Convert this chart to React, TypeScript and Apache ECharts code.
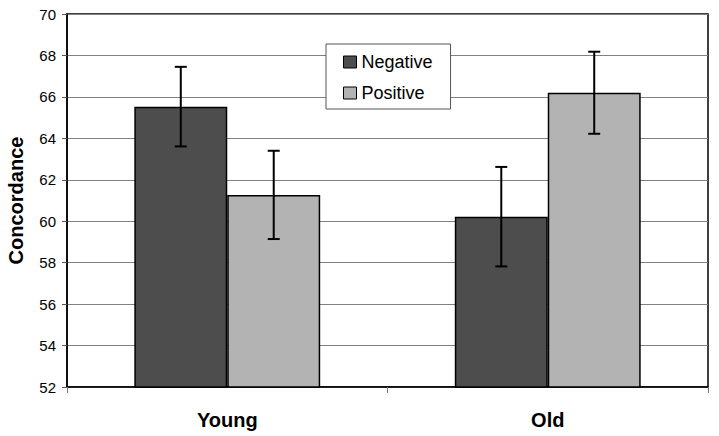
import React, { useEffect, useRef } from "react";
import * as echarts from "echarts";

const categories = ["Young", "Old"];
const seriesNames = ["Negative", "Positive"];
const negativeValues = [65.53, 60.22];
const positiveValues = [61.27, 66.2];
const negativeErrors = [1.92, 2.4];
const positiveErrors = [2.13, 1.98];
const yTicks = [52, 54, 56, 58, 60, 62, 64, 66, 68, 70];

const CAT_GAP = 0.42;

function errorSeries(values: number[], errors: number[], idx: number) {
  const data = values.map((v, i) => [i, v - errors[i], v + errors[i]]);
  return {
    type: "custom",
    name: seriesNames[idx] + " error",
    z: 10,
    silent: true,
    renderItem: (params: any, api: any) => {
      const xi = api.value(0);
      const lo = api.coord([xi, api.value(1)]);
      const hi = api.coord([xi, api.value(2)]);
      const band = api.size([1, 0])[0];
      const bw = (band * (1 - CAT_GAP)) / 2;
      const x = lo[0] + (idx === 0 ? -bw / 2 : bw / 2);
      const cap = 6;
      const style = { stroke: "#000", lineWidth: 2 };
      return {
        type: "group",
        children: [
          { type: "line", shape: { x1: x, y1: lo[1], x2: x, y2: hi[1] }, style },
          { type: "line", shape: { x1: x - cap, y1: hi[1], x2: x + cap, y2: hi[1] }, style },
          { type: "line", shape: { x1: x - cap, y1: lo[1], x2: x + cap, y2: lo[1] }, style },
        ],
      };
    },
    data,
  };
}

export default function App() {
  const ref = useRef<HTMLDivElement>(null);
  useEffect(() => {
    if (!ref.current) return;
    const chart = echarts.init(ref.current, null, { renderer: "svg" });
    chart.setOption({
      animation: false,
      backgroundColor: "#fff",
      textStyle: { fontFamily: "Liberation Sans, Arial, sans-serif" },
      grid: {
        left: 67,
        right: 11,
        top: 14,
        bottom: 49,
        outerBoundsMode: "none",
        containLabel: false,
        show: true,
        borderColor: "#000",
        borderWidth: 1.5,
        backgroundColor: "transparent",
      },
      legend: {
        data: seriesNames.map((n) => ({ name: n, icon: "rect" })),
        orient: "vertical",
        left: 326,
        top: 44,
        itemWidth: 13,
        itemHeight: 12,
        itemGap: 13,
        padding: [9, 18, 7, 17],
        borderColor: "#555",
        borderWidth: 1,
        backgroundColor: "#fff",
        textStyle: { fontSize: 18, color: "#000", fontFamily: "Liberation Sans, Arial, sans-serif" },
        itemStyle: { borderColor: "#000", borderWidth: 1 },
      },
      xAxis: {
        type: "category",
        data: categories,
        axisLine: { lineStyle: { color: "#000", width: 1.5 } },
        axisTick: { show: true, length: 6, lineStyle: { color: "#777" } },
        axisLabel: {
          fontSize: 20,
          fontWeight: "bold",
          color: "#000",
          margin: 23,
        },
      },
      yAxis: {
        type: "value",
        min: 52,
        max: 70,
        interval: 2,
        name: "Concordance",
        nameLocation: "middle",
        nameGap: 41,
        nameRotate: 90,
        nameTextStyle: { fontSize: 20, fontWeight: "bold", color: "#000" },
        axisLine: { show: true, lineStyle: { color: "#000", width: 1.5 } },
        axisTick: { show: true, length: 5, lineStyle: { color: "#555" } },
        axisLabel: {
          fontSize: 15,
          color: "#000",
          margin: 11,
          formatter: (v: number) => (yTicks.includes(v) ? String(v) : ""),
        },
        splitLine: { show: true, lineStyle: { color: "#808080", width: 1 } },
      },
      series: [
        {
          type: "bar",
          name: seriesNames[0],
          data: negativeValues,
          barGap: "0%",
          barCategoryGap: "42%",
          itemStyle: { color: "#4d4d4d", borderColor: "#000", borderWidth: 1.5 },
        },
        {
          type: "bar",
          name: seriesNames[1],
          data: positiveValues,
          barGap: "0%",
          barCategoryGap: "42%",
          itemStyle: { color: "#b3b3b3", borderColor: "#000", borderWidth: 1.5 },
        },
        errorSeries(negativeValues, negativeErrors, 0),
        errorSeries(positiveValues, positiveErrors, 1),
      ],
    });
    return () => chart.dispose();
  }, []);
  return (
    <div
      ref={ref}
      style={{ position: "fixed", left: 0, top: 0, width: 719, height: 436 }}
    />
  );
}
